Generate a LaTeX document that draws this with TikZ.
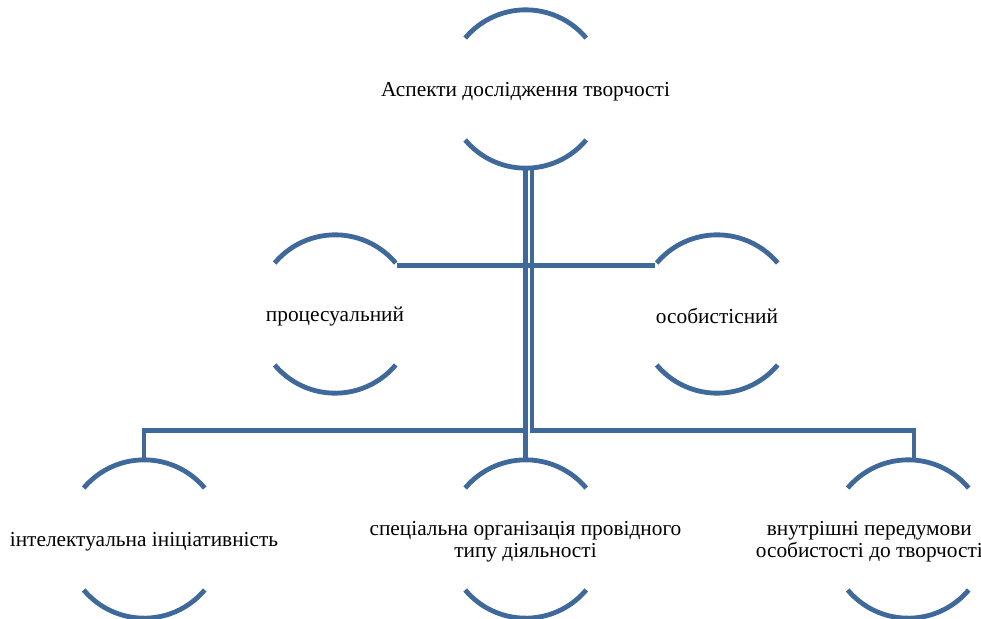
\documentclass[tikz,border=0pt]{standalone}
\usepackage{fontspec}
\setmainfont{Liberation Serif}
\usepackage{xcolor}
\usepackage{tikz}
\usetikzlibrary{positioning}
\definecolor{arcblue}{RGB}{64,105,155}
\newcommand{\arcpair}[1]{%
  \draw[rim] (#1.40) arc[start angle=40,end angle=140,radius=59.25pt];
  \draw[rim] (#1.-40) arc[start angle=-40,end angle=-140,radius=59.25pt];}

\begin{document}
\begin{tikzpicture}[
  x=0.75pt,y=-0.75pt,
  asp/.style={circle,minimum size=118.5pt,inner sep=0pt},
  txt/.style={font=\rmfamily\fontsize{16}{16.5}\selectfont,align=center,inner sep=0pt,yshift=-1.8pt},
  rim/.style={draw=arcblue,line width=3.6pt},
  line/.style={draw=arcblue,line width=3.6pt}
]
\useasboundingbox (0,0) rectangle (981,618);
\node[asp] (top) at (525.5,89) {};
\node[asp] (proc) at (335,314) {};
\node[asp] (osob) at (717,314) {};
\node[asp] (intel) at (144,539) {};
\node[asp] (spec) at (525.5,539) {};
\node[asp] (vnutr) at (908,539) {};

\node[txt] (top-t) at (top) {Аспекти дослідження творчості};
\node[txt] (proc-t) at (proc) {процесуальний};
\node[txt] (osob-t) at (osob) {особистісний};
\node[txt] (intel-t) at (intel) {інтелектуальна ініціативність};
\node[txt] (spec-t) at (spec) {спеціальна організація провідного\\типу діяльності};
\node[txt] (vnutr-t) at ([xshift=-29pt]vnutr) {внутрішні передумови\\особистості до творчості};

\arcpair{top}
\arcpair{proc}
\arcpair{osob}
\arcpair{intel}
\arcpair{spec}
\arcpair{vnutr}

\draw[line] (top.south) |- (proc.38);
\draw[line] (top.south) |- (osob.142);
\draw[line] (top.south) -- ++(0,262) -| (intel.north);
\draw[line] (top.south) -- (spec.north);
\draw[line] ([xshift=4.9pt]top.south) -- ++(0,262) -| ([xshift=4.5pt]vnutr.north);
\end{tikzpicture}
\end{document}
